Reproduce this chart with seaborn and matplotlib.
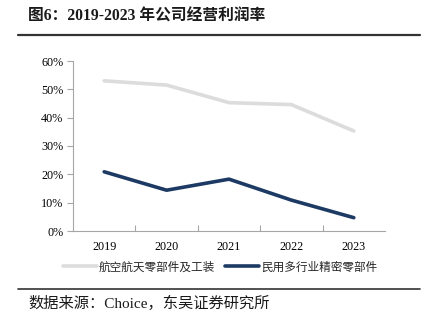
import matplotlib
matplotlib.use("Agg")
import matplotlib.pyplot as plt
import seaborn as sns
import pandas as pd
from matplotlib.lines import Line2D
from matplotlib.ticker import FuncFormatter, FixedLocator

years = ["2019", "2020", "2021", "2022", "2023"]
series_names = ["航空航天零部件及工装", "民用多行业精密零部件"]
aero = [53.0, 51.5, 45.3, 44.6, 35.3]
civil = [20.9, 14.4, 18.3, 10.9, 4.7]
yticks = [0, 10, 20, 30, 40, 50, 60]
title = "图6：2019-2023 年公司经营利润率"
source = "数据来源：Choice，东吴证券研究所"

df = pd.DataFrame({
    "year": years * 2,
    "value": aero + civil,
    "series": [series_names[0]] * 5 + [series_names[1]] * 5,
})

sns.set_theme(style="white")
SERIF = ["Liberation Serif", "Noto Sans CJK SC"]
CJK = ["Noto Sans CJK SC", "Liberation Serif"]
plt.rcParams["font.family"] = SERIF

fig = plt.figure(figsize=(4.25, 3.27), dpi=100)
ax = fig.add_axes([73 / 425, 1 - 231 / 327, 312 / 425, 170 / 327])

palette = {series_names[0]: "#DCDCDC", series_names[1]: "#1C3A63"}
sns.lineplot(data=df, x="year", y="value", hue="series", palette=palette,
             linewidth=2.6, ax=ax, legend=False, sort=False)

ax.set_xlim(-0.5, 4.5)
ax.set_ylim(0, 60)
ax.set_yticks(yticks)
ax.yaxis.set_major_formatter(FuncFormatter(lambda v, p: f"{int(v)}%"))
ax.set_xticks(range(5))
ax.set_xticklabels(years)
ax.xaxis.set_minor_locator(FixedLocator([0.5, 1.5, 2.5, 3.5]))
ax.tick_params(axis="x", which="major", length=0, pad=7, labelsize=8.7, colors="#000000")
ax.tick_params(axis="x", which="minor", length=4, direction="in", color="#A6A6A6", width=0.8, bottom=True)
ax.tick_params(axis="y", which="major", length=4, direction="out", color="#A6A6A6", width=0.8,
               left=True, labelsize=8.7, pad=3, colors="#000000")
ax.tick_params(axis="y", labelcolor="#000000")
ax.set_xlabel("")
ax.set_ylabel("")
for s in ["top", "right"]:
    ax.spines[s].set_visible(False)
for s in ["left", "bottom"]:
    ax.spines[s].set_color("#A6A6A6")
    ax.spines[s].set_linewidth(0.8)
for lab in ax.get_xticklabels() + ax.get_yticklabels():
    lab.set_family("Liberation Serif")

handles = [Line2D([], [], color=palette[n], linewidth=2.6) for n in series_names]
leg = fig.legend(handles, series_names, loc="center", bbox_to_anchor=(220 / 425, 1 - 267 / 327),
                 ncol=2, frameon=False, handlelength=2.9, handletextpad=0.15, columnspacing=0.9,
                 prop={"family": CJK, "size": 8.4})

fig.text(28 / 425, 1 - 17 / 327, title, fontsize=11.3, fontweight="bold", family=SERIF,
         va="center", ha="left", color="#1a1a1a")
fig.add_artist(Line2D([18 / 425, 420 / 425], [1 - 35 / 327] * 2, color="#333333", linewidth=1.6))
fig.add_artist(Line2D([18 / 425, 420 / 425], [1 - 289 / 327] * 2, color="#333333", linewidth=1.2))
fig.text(28 / 425, 1 - 303 / 327, source, fontsize=11, family=SERIF, va="center", ha="left",
         color="#1a1a1a")

fig.savefig("out.png", dpi=100)
